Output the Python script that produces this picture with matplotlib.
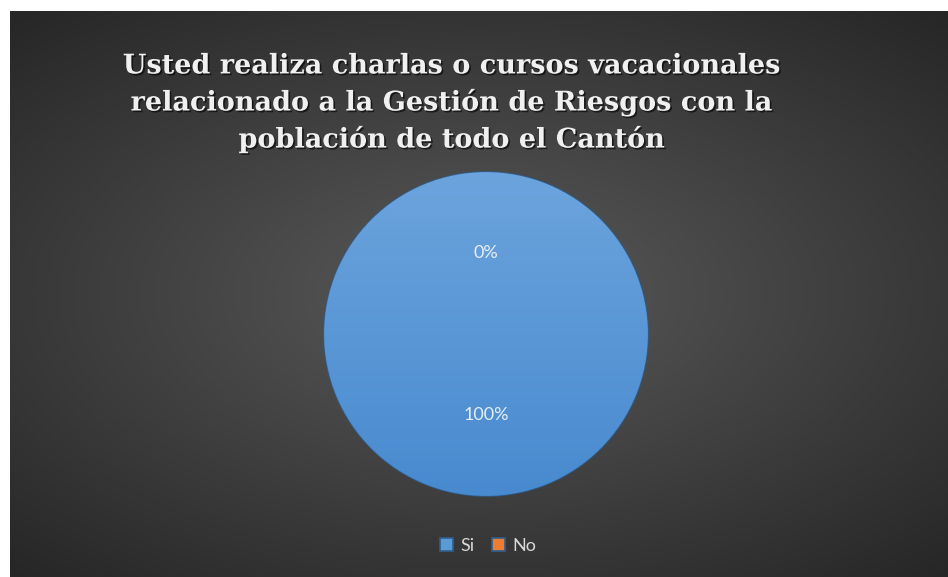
import matplotlib
matplotlib.use("Agg")
import matplotlib.pyplot as plt
import matplotlib.patheffects as pe
import numpy as np

categories = ["Si", "No"]
values = [100, 0]
colors = ["#5b9bd5", "#ed7d31"]
title = ("Usted realiza charlas o cursos vacacionales\n"
         "relacionado a la Gestión de Riesgos con la\n"
         "población de todo el Cantón")

W, H = 948, 577
fig = plt.figure(figsize=(W / 100, H / 100), dpi=100)
fig.patch.set_facecolor("white")

# dark chart area with a soft radial gradient
bg = fig.add_axes([10 / W, 0, (W - 10) / W, (H - 11) / H])
bg.set_axis_off()
yy, xx = np.mgrid[-1:1:300j, -1:1:500j]
dist = np.sqrt((xx * 0.9) ** 2 + (yy * 1.0) ** 2)
shade = np.clip(1 - dist / 1.35, 0, 1)
lo = np.array([0x26, 0x26, 0x26]) / 255
hi = np.array([0x5a, 0x5a, 0x5a]) / 255
img = lo + (hi - lo) * shade[..., None]
bg.imshow(img, extent=[0, 1, 0, 1], aspect="auto", interpolation="bilinear")
bg.set_xlim(0, 1)
bg.set_ylim(0, 1)

fig.text(452 / W, 1 - 103 / H, title, ha="center", va="center",
         fontsize=19.5, fontweight="bold", family="DejaVu Serif",
         color="#f0f0f0", linespacing=1.35,
         path_effects=[pe.withSimplePatchShadow(offset=(1.2, -1.2),
                                                shadow_rgbFace="black", alpha=0.6)])

# pie
cx, cy, half = 486, 334, 170
ax = fig.add_axes([(cx - half) / W, (H - cy - half) / H, 2 * half / W, 2 * half / H])
ax.set_axis_off()
wedges, texts, autotexts = ax.pie(
    values, colors=colors, startangle=90, counterclock=False,
    autopct="%1.0f%%", pctdistance=0.5,
    wedgeprops=dict(edgecolor="#2f5f8f", linewidth=1.2),
    textprops=dict(color="#e8eef5", fontsize=13, family="Lato"),
)

# vertical blue gradient inside the main wedge
grad = np.linspace(0, 1, 256)[:, None]
top = np.array([0x6c, 0xa4, 0xdd]) / 255
bot = np.array([0x48, 0x8a, 0xcf]) / 255
gimg = bot + (top - bot) * grad[..., None]
gimg = np.repeat(gimg, 2, axis=1)
gi = ax.imshow(gimg, extent=[-1, 1, -1, 1], origin="lower", aspect="auto",
               zorder=wedges[0].get_zorder() + 0.1)
gi.set_clip_path(wedges[0])
ax.set_xlim(-1.05, 1.05)
ax.set_ylim(-1.05, 1.05)
for t in autotexts:
    t.set_zorder(5)

leg = fig.legend(wedges, categories, loc="center", bbox_to_anchor=(488 / W, 1 - 546 / H),
                 ncol=2, frameon=False, handlelength=0.7, handleheight=0.7,
                 handletextpad=0.4, columnspacing=1.0,
                 prop=dict(family="Lato", size=13))
for t in leg.get_texts():
    t.set_color("#d9d9d9")

fig.savefig("out.png", dpi=100, facecolor=fig.get_facecolor())
